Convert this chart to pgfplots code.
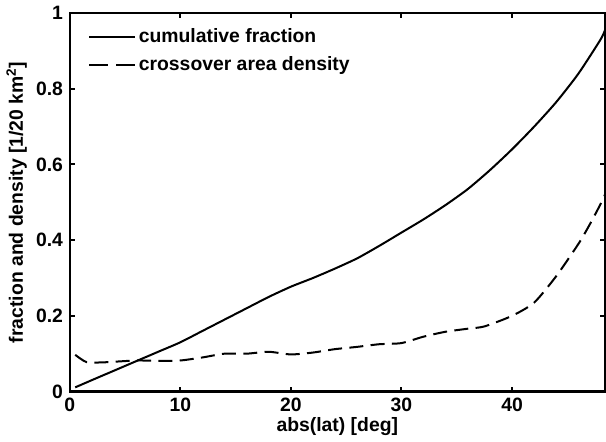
\documentclass[border=0pt]{standalone}
\usepackage{fontspec}
\setmainfont{Liberation Sans}
\usepackage{pgfplots}
\pgfplotsset{compat=1.18}
\begin{document}
\fontsize{14.5}{17}\selectfont\bfseries
\begin{tikzpicture}
\begin{axis}[
  scale only axis,
  width=401pt, height=283.5pt,
  xmin=0, xmax=48.4, ymin=0, ymax=1,
  xtick={0,10,20,30,40}, ytick={0,0.2,0.4,0.6,0.8,1},
  yticklabels={0,0.2,0.4,0.6,0.8,1},
  xticklabels={0,10,20,30,40},
  tick align=inside, major tick length=3.75pt,
  tick style={line width=1.5pt, black},
  axis line style={line width=1.6pt},
  ticklabel style={font=\fontsize{14.5}{17}\selectfont\bfseries},
  label style={font=\fontsize{14.5}{17}\selectfont\bfseries},
  xlabel={abs(lat) [deg]},
  ylabel={fraction and density [1/20 km\textsuperscript{2}]},
  xlabel style={yshift=6pt},
  ylabel style={yshift=-3pt},
  legend style={draw=none, fill=none, at={(0.034,0.968)}, anchor=north west,
    font=\fontsize{14.5}{17}\selectfont\bfseries, row sep=4.5pt,
    inner sep=0pt},
  legend cell align=left,
  legend image code/.code={\draw[#1] (0pt,0pt) -- (34.5pt,0pt);},
]
\addplot[black, line width=1.5pt, smooth, tension=0.4] coordinates {
(0.5,0.011) (2,0.03) (4,0.055) (6,0.08) (8,0.105) (10,0.13) (12,0.16)
(14,0.19) (16,0.22) (18,0.25) (20,0.277) (22,0.30) (24,0.325) (26,0.352)
(28,0.385) (30,0.42) (32,0.455) (34,0.493) (36,0.535) (38,0.585) (40,0.64)
(42,0.70) (44,0.765) (46,0.84) (48,0.93) (48.4,0.955)};
\addlegendentry{cumulative fraction}
\addplot[black, line width=1.5pt, dash pattern=on 10.5pt off 5.5pt, smooth, tension=0.4,
  legend image code/.code={\draw[black, line width=1.5pt, dash pattern=on 14.25pt off 6pt] (0pt,0pt) -- (34.5pt,0pt);}] coordinates {
(0.5,0.097) (1.5,0.078) (3,0.077) (6,0.082) (8,0.081) (10,0.082) (12,0.09)
(14,0.1) (16,0.1) (18,0.105) (20,0.098) (22,0.103) (24,0.112) (26,0.118)
(28,0.125) (30,0.128) (32,0.145) (34,0.158) (36,0.166) (37.5,0.172)
(40,0.2) (42,0.235) (44,0.305) (46,0.39) (47,0.44) (48,0.495) (48.4,0.52)};
\addlegendentry{crossover area density}
\end{axis}
\end{tikzpicture}
\end{document}
